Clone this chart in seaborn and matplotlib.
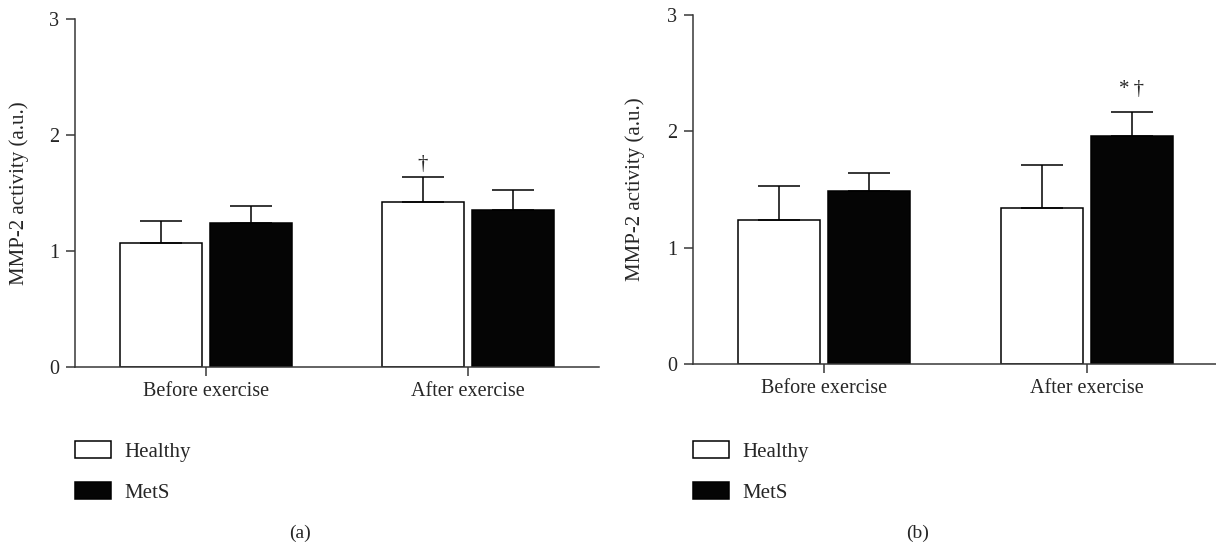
import pandas as pd
import seaborn as sns
import numpy as np
import matplotlib.pyplot as plt
import matplotlib.patches as mpatches

# dados
momentos = ['Before exercise', 'After exercise']
grupos = ['Healthy', 'MetS']

healthy_a = [1.07, 1.42]
healthy_a_err = [0.19, 0.22]
mets_a = [1.24, 1.35]
mets_a_err = [0.15, 0.18]

healthy_b = [1.24, 1.34]
healthy_b_err = [0.29, 0.37]
mets_b = [1.49, 1.96]
mets_b_err = [0.15, 0.21]

ylabel = 'MMP-2 activity (a.u.)'
cor_linha = '#383838'

sns.set_theme(style='ticks')
plt.rcParams['font.family'] = ['Liberation Serif', 'DejaVu Serif']
plt.rcParams['axes.edgecolor'] = cor_linha
plt.rcParams['axes.linewidth'] = 1.1


def monta_df(healthy, mets):
    return pd.DataFrame({
        'momento': momentos * 2,
        'grupo': [grupos[0]] * 2 + [grupos[1]] * 2,
        'valor': list(healthy) + list(mets),
    })


def desenha(ax, healthy, healthy_err, mets, mets_err, anotacoes):
    df = monta_df(healthy, mets)
    sns.barplot(
        data=df,
        x='momento',
        y='valor',
        hue='grupo',
        order=momentos,
        hue_order=grupos,
        palette={'Healthy': 'white', 'MetS': '#050505'},
        edgecolor='black',
        linewidth=1.1,
        width=0.687,
        gap=0.09,
        errorbar=None,
        legend=False,
        ax=ax,
    )
    erros = [healthy_err, mets_err]
    topos = {}
    for gi, (cont, errs) in enumerate(zip(ax.containers, erros)):
        for mi, (bar, e) in enumerate(zip(cont, errs)):
            x = bar.get_x() + bar.get_width() / 2
            h = bar.get_height()
            ax.errorbar(x, h, yerr=[[0], [e]], fmt='none', ecolor='black',
                        elinewidth=1.1, capsize=15, capthick=1.1, zorder=1)
            topos[(gi, mi)] = (x, h + e)
    for (gi, mi), texto, dy in anotacoes:
        x, y = topos[(gi, mi)]
        ax.text(x, y + dy, texto, ha='center', va='center', fontsize=15)

    ax.set_xlim(-0.5, 1.5)
    ax.set_ylim(0, 3)
    ax.set_yticks([0, 1, 2, 3])
    ax.set_xlabel('')
    ax.set_ylabel(ylabel, fontsize=15)
    ax.tick_params(axis='both', length=6.5, width=1.1, color=cor_linha,
                   labelsize=14.5)
    ax.tick_params(axis='y', pad=5)
    ax.tick_params(axis='x', pad=4.5)
    sns.despine(ax=ax)

    handles = [
        mpatches.Patch(facecolor='white', edgecolor='black', linewidth=1.1, label='Healthy'),
        mpatches.Patch(facecolor='#050505', edgecolor='black', linewidth=1.1, label='MetS'),
    ]
    return handles


fig = plt.figure(figsize=(12.16, 5.44), dpi=100)
ax_a = fig.add_axes([75 / 1216, 1 - 367 / 544, 524 / 1216, 348 / 544])
ax_b = fig.add_axes([693 / 1216, 1 - 364 / 544, 525 / 1216, 349 / 544])

h_a = desenha(ax_a, healthy_a, healthy_a_err, mets_a, mets_a_err,
              [((0, 1), '\u2020', 0.11)])
h_b = desenha(ax_b, healthy_b, healthy_b_err, mets_b, mets_b_err,
              [((1, 1), '*\u2009\u2020', 0.19)])

ax_a.yaxis.set_label_coords(-0.088, 0.5)
ax_b.yaxis.set_label_coords(-0.092, 0.5)

for ax, handles, x0 in [(ax_a, h_a, 75), (ax_b, h_b, 693)]:
    ax.legend(handles=handles, loc='upper left',
              bbox_to_anchor=(x0 / 1216, 1 - 441 / 544),
              bbox_transform=fig.transFigure, frameon=False,
              fontsize=15, handlelength=1.75, handleheight=0.88,
              handletextpad=0.62, labelspacing=0.98,
              borderpad=0, borderaxespad=0)

fig.text(300 / 1216, 1 - 533 / 544, '(a)', ha='center', va='center', fontsize=14)
fig.text(918 / 1216, 1 - 533 / 544, '(b)', ha='center', va='center', fontsize=14)

fig.savefig('out.png', dpi=100)
